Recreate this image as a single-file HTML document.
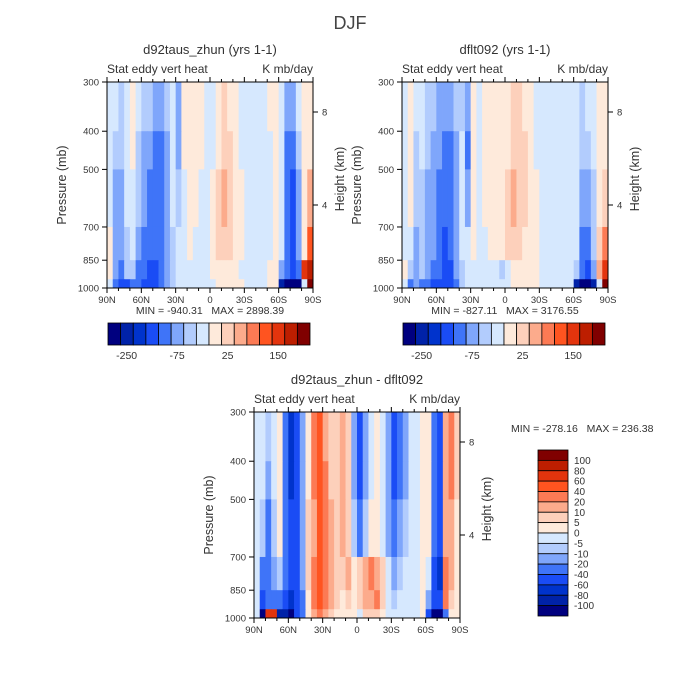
<!DOCTYPE html>
<html><head><meta charset="utf-8">
<style>
body{margin:0;background:#fff;}
svg{display:block;font-family:"Liberation Sans",sans-serif;}
text{white-space:pre;}
</style></head>
<body>
<svg id="fig" width="700" height="700" viewBox="0 0 700 700" xmlns="http://www.w3.org/2000/svg">
<text x="350" y="29" text-anchor="middle" font-size="18" fill="#444">DJF</text>
</svg>
<script>
// ---- data (values per 5° latitude column, 90N -> 90S; rows are pressure bands top -> bottom)
const pressureBands = [300, 400, 500, 700, 850, 950, 1000];
const latTicks = ["90N","60N","30N","0","30S","60S","90S"];
const pTicks = [300, 400, 500, 700, 850, 1000];
const topLevels = [-250,-200,-150,-100,-75,-50,-25,0,25,50,75,100,150,200,250];
const diffLevels = [-100,-80,-60,-40,-20,-10,-5,0,5,10,20,40,60,80,100];
const topCbLabels = ["-250","-75","25","150"];
const diffCbLabels = ["100","80","60","40","20","10","5","0","-5","-10","-20","-40","-60","-80","-100"];

const leftVals = [
[-10,-10,-35,-10,10,-10,-35,-35,-60,-60,-35,-10,-60,10,10,10,10,-10,-10,10,35,10,10,-10,-10,-10,-10,-10,10,10,-10,-60,-60,-10,10,10],
[-10,-35,-35,-10,10,-35,-60,-60,-90,-90,-60,-10,-60,10,10,10,10,-10,-10,10,35,35,10,-10,-10,-10,-10,-10,-10,10,-10,-90,-90,-35,10,10],
[-10,-60,-60,-10,-10,-35,-60,-90,-90,-90,-60,-10,-35,-10,10,10,-10,-10,10,35,60,35,10,10,-10,-10,-10,-10,-10,10,-10,-90,-120,-60,10,60],
[10,-60,-60,-35,-10,-60,-90,-90,-90,-90,-60,-35,-10,-10,10,-10,-10,-10,10,35,35,35,10,10,-10,-10,-10,-10,-10,10,-10,-90,-120,-60,10,120],
[10,-60,-90,-35,-35,-90,-90,-120,-120,-90,-60,-35,-10,-10,-10,-10,-10,-10,10,10,10,10,10,-10,-10,-10,-10,-10,10,10,-60,-90,-120,-90,170,220],
[-10,-90,-120,-120,-90,-90,-120,-120,-120,-90,-60,-35,-10,-10,-10,-10,-10,-10,-10,10,10,10,10,10,-10,-10,-10,-10,10,10,-220,-300,-300,-300,-10,300]
];
const rightVals = [
[-10,10,-10,-10,-35,-35,-60,-60,-60,-35,-35,-60,10,-10,10,10,10,10,10,35,35,10,10,-10,-10,-10,-10,-10,-10,-10,-10,-35,-10,-10,10,10],
[-10,10,-35,-10,-35,-60,-60,-90,-90,-60,-10,-90,10,-10,10,10,10,10,10,35,35,35,10,-10,-10,-10,-10,-10,-10,-10,-10,-35,-35,-10,10,10],
[-10,10,-35,-35,-60,-60,-90,-90,-90,-60,-10,-60,10,-10,10,10,10,10,35,60,35,35,10,10,-10,-10,-10,-10,-10,-10,-10,-60,-60,-35,10,35],
[-10,-10,-60,-35,-60,-60,-90,-120,-90,-60,-10,-10,10,-10,-10,10,10,10,35,35,35,10,10,10,-10,-10,-10,-10,-10,-10,-10,-90,-90,-35,35,90],
[10,-35,-60,-35,-60,-90,-90,-120,-120,-60,-35,-10,-10,-10,-10,-10,-10,-35,-10,10,10,10,10,10,-10,-10,-10,-10,-10,-10,-35,-90,-120,-60,60,150],
[-10,-90,-60,-90,-90,-120,-120,-120,-120,-90,-35,-10,-10,-10,-10,-10,-10,-10,-10,10,10,10,10,10,-10,-10,-10,-10,-10,-10,-220,-300,-300,-220,-10,300]
];
const diffVals = [
[-3,-3,-7,-3,3,-30,-70,-50,-15,3,30,50,15,7,7,15,7,-15,-50,-15,-3,3,-3,-15,-50,-30,-15,-3,-3,3,3,-30,-50,15,30,7],
[-3,-3,-15,-3,3,-30,-70,-50,-15,3,30,50,30,7,7,15,7,-15,-50,-15,-3,3,-3,-15,-50,-30,-15,-3,-3,3,3,-30,-50,15,30,7],
[-3,-7,-30,-7,3,-30,-50,-50,-15,7,15,50,30,15,7,15,7,-7,-30,-7,3,3,-3,-15,-30,-15,-7,-3,-3,3,3,-30,-50,15,15,3],
[-3,-30,-30,-15,-7,-30,-50,-50,-15,7,30,50,30,15,7,7,15,3,7,15,30,15,7,-3,-15,-7,-3,-3,-3,3,-3,-50,-70,30,15,3],
[-3,-50,-30,-30,-30,-50,-70,-50,-30,3,30,50,30,15,7,3,7,3,7,15,15,30,7,-3,-7,-3,-3,-3,-3,3,-15,-50,-50,30,7,3],
[-3,-110,70,70,-90,-90,-110,-50,-30,3,15,30,15,7,3,3,3,3,-3,7,7,7,3,-3,-3,-3,-3,-3,-3,3,-50,-110,-110,-30,3,3]
];

const colors = ["#00007f","#0022a8","#0033cc","#1a4cf5","#3f74f8","#7fa6fb","#b2ccfd","#d6e8fe","#feeadb","#fdd0bb","#fcab8c","#fc7a54","#ff5420","#e3340d","#bd1e00","#800000"];
const NS = "http://www.w3.org/2000/svg";
const svg = document.getElementById("fig");

function mk(tag, attrs, parent){
  const e = document.createElementNS(NS, tag);
  for (const k in attrs) e.setAttribute(k, attrs[k]);
  (parent||svg).appendChild(e);
  return e;
}
function levelIndex(v, levels){
  let i = 0;
  while (i < levels.length && v >= levels[i]) i++;
  return i;
}

function drawPanel(px, py, vals, levels, title, nm){
  const W = 206, H = 206;
  const g = mk("g", {});
  
  
  const xScale = lat => px + (90 - lat) / 180 * W;
  const yScale = p => py + Math.log(p / 300) / Math.log(1000 / 300) * H;
  for (let r = 0; r < vals.length; r++){
    for (let c = 0; c < vals[r].length; c++){
      const x0 = xScale(90 - c * 5), x1 = xScale(90 - (c + 1) * 5);
      const y0 = yScale(pressureBands[r]), y1 = yScale(pressureBands[r + 1]);
      const rc = mk("rect", {x:x0, y:y0, width:x1 - x0 + 0.4, height:y1 - y0 + 0.4, fill:colors[levelIndex(vals[r][c], levels)]}, g);
      
      
    }
  }
  const frame = mk("rect", {x:px, y:py, width:W, height:H, fill:"none", stroke:"#000", "stroke-width":1}, g);
  
  
  for (let i = 0; i <= 18; i++){
    const lat = 90 - i * 10, x = xScale(lat), len = (i % 3 === 0) ? 5 : 3;
    mk("line", {x1:x, x2:x, y1:py + H, y2:py + H + len, stroke:"#000"}, g);
    mk("line", {x1:x, x2:x, y1:py, y2:py - len, stroke:"#000"}, g);
  }
  latTicks.forEach((t, i) => {
    const tx = mk("text", {x:xScale(90 - i * 30), y:py + H + 15, "text-anchor":"middle", "font-size":9.5, fill:"#333"}, g);
    tx.textContent = t;
    
    
  });
  pTicks.forEach(p => {
    const y = yScale(p);
    mk("line", {x1:px - 5, x2:px, y1:y, y2:y, stroke:"#000"}, g);
    const tx = mk("text", {x:px - 8, y:y + 3.5, "text-anchor":"end", "font-size":9.5, fill:"#333"}, g);
    tx.textContent = p;
    
    
  });
  [[8, 30], [4, 123]].forEach(([h, off]) => {
    const y = py + off;
    mk("line", {x1:px + W, x2:px + W + 5, y1:y, y2:y, stroke:"#000"}, g);
    const tx = mk("text", {x:px + W + 9, y:y + 3.5, "font-size":9.5, fill:"#333"}, g);
    tx.textContent = h;
    
    
  });
  const t1 = mk("text", {x:px + W / 2, y:py - 28, "text-anchor":"middle", "font-size":13, fill:"#333"}, g);
  t1.textContent = title;
  
  
  const t2 = mk("text", {x:px, y:py - 9, "font-size":12, fill:"#333"}, g);
  t2.textContent = "Stat eddy vert heat";
  
  
  const t3 = mk("text", {x:px + W, y:py - 9, "text-anchor":"end", "font-size":12, fill:"#333"}, g);
  t3.textContent = "K mb/day";
  
  
  const yl = mk("text", {x:0, y:0, "text-anchor":"middle", "font-size":12.5, fill:"#333", transform:`translate(${px - 41},${py + H / 2}) rotate(-90)`}, g);
  yl.textContent = "Pressure (mb)";
  
  
  const hl = mk("text", {x:0, y:0, "text-anchor":"middle", "font-size":12.5, fill:"#333", transform:`translate(${px + W + 31},${py + 97}) rotate(-90)`}, g);
  hl.textContent = "Height (km)";
  
  
}

function horizColorbar(x, y, nm){
  const w = 202 / 16;
  const g = mk("g", {});
  
  
  colors.forEach((c, i) => {
    const r = mk("rect", {x:x + i * w, y:y, width:w, height:22, fill:c, stroke:"#000", "stroke-width":0.8}, g);
    
    
  });
  topCbLabels.forEach((t, i) => {
    const tx = mk("text", {x:x + (1 + i * 4) * w + 6, y:y + 36, "text-anchor":"middle", "font-size":10.5, fill:"#333"}, g);
    tx.textContent = t;
    
    
  });
}
function minmax(x, y, txt, anchor){
  const t = mk("text", {x:x, y:y, "text-anchor":anchor, "font-size":10.5, fill:"#333"});
  t.textContent = txt;
  
  
}

drawPanel(107, 82, leftVals, topLevels, "d92taus_zhun (yrs 1-1)", "panel-left");
drawPanel(402, 82, rightVals, topLevels, "dflt092 (yrs 1-1)", "panel-right");
drawPanel(254, 412, diffVals, diffLevels, "d92taus_zhun - dflt092", "panel-diff");
minmax(210, 314, "MIN = -940.31   MAX = 2898.39", "middle");
minmax(505, 314, "MIN = -827.11   MAX = 3176.55", "middle");
minmax(511, 432, "MIN = -278.16   MAX = 236.38", "start");
horizColorbar(108, 323, "colorbar-left");
horizColorbar(403, 323, "colorbar-right");

(function(){
  const g = mk("g", {});
  
  
  const h = 166 / 16;
  colors.slice().reverse().forEach((c, i) => {
    const r = mk("rect", {x:538, y:450 + i * h, width:30, height:h, fill:c, stroke:"#000", "stroke-width":0.8}, g);
    
    
  });
  diffCbLabels.forEach((t, i) => {
    const tx = mk("text", {x:574, y:450 + (i + 1) * h + 3.5, "font-size":10, fill:"#333"}, g);
    tx.textContent = t;
    
    
  });
})();
</script>
</body></html>
